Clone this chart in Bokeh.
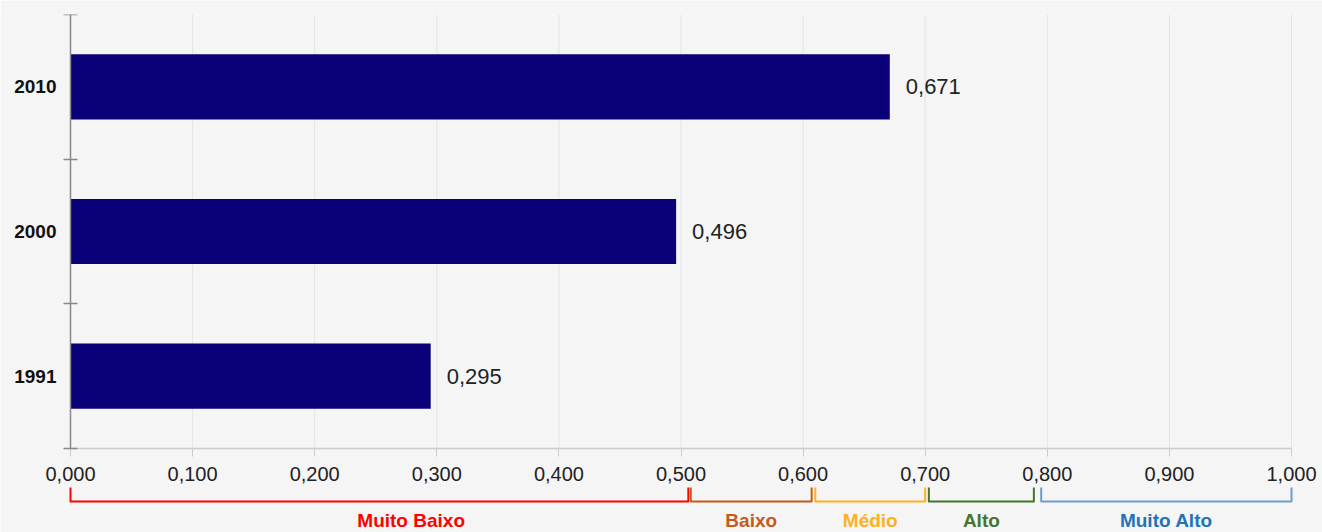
from bokeh.plotting import figure
from bokeh.models import Range1d, FixedTicker
from bokeh.core.properties import value
from bokeh.embed import file_html
from bokeh.resources import INLINE

# ---- data ----
anos = ["1991", "2000", "2010"]
idhm = [0.295, 0.496, 0.671]
idhm_rotulos = ["0,295", "0,496", "0,671"]

x_ticks = [0.0, 0.1, 0.2, 0.3, 0.4, 0.5, 0.6, 0.7, 0.8, 0.9, 1.0]
x_tick_labels = ["0,000", "0,100", "0,200", "0,300", "0,400", "0,500",
                 "0,600", "0,700", "0,800", "0,900", "1,000"]

faixas = ["Muito Baixo", "Baixo", "Médio", "Alto", "Muito Alto"]
faixa_inicio = [0.0, 0.508, 0.610, 0.703, 0.795]
faixa_fim = [0.506, 0.607, 0.700, 0.789, 1.0]

# ---- style / layout ----
BG = "#f5f5f5"
BAR = "#0a0078"
FONT = value("Liberation Sans")
faixa_cor_chave = ["#ff0000", "#c55a1a", "#ffb020", "#44752a", "#6a9fd0"]
faixa_cor_texto = ["#ff0000", "#c55a1a", "#ffb020", "#44752a", "#1f73b7"]

W, H = 1322, 532
LEFT, RIGHT, TOP = 70, 31, 14      # where the value range 0..1 and the bands sit
X_SCALE = W - LEFT - RIGHT         # pixels per unit of IDHM
CAT_H = 434 / len(anos)            # pixels per category band
AXIS_Y = TOP + 434                 # screen y of the value axis


def below(px):
    """data-y of a point px pixels below the value axis"""
    return -px / CAT_H


ypos = [i + 0.5 for i in range(len(anos))]
bounds = [float(i) for i in range(len(anos) + 1)]

p = figure(width=W, height=H,
           x_range=Range1d(-LEFT / X_SCALE, 1 + RIGHT / X_SCALE),
           y_range=Range1d(below(H - AXIS_Y), len(anos)),
           output_backend="svg", toolbar_location=None,
           min_border_left=0, min_border_right=0, min_border_top=TOP, min_border_bottom=0,
           background_fill_color=BG, border_fill_color=BG, outline_line_color=None)

# vertical grid lines (only over the plotting band)
p.segment(x0=x_ticks, y0=[0] * len(x_ticks), x1=x_ticks, y1=[len(anos)] * len(x_ticks),
          line_color="#e4e4e4", line_width=1)

p.hbar(y=ypos, left=0, right=idhm, height=0.45, fill_color=BAR, line_color=None)
p.text(x=idhm, y=ypos, text=idhm_rotulos, x_offset=16, text_align="left",
       text_baseline="middle", text_font=FONT, text_font_size="22px", text_color="#222222")

p.xgrid.visible = False
p.ygrid.visible = False

xa = p.xaxis[0]
xa.fixed_location = 0
xa.bounds = (0, 1)
xa.ticker = FixedTicker(ticks=x_ticks, minor_ticks=[])
xa.major_label_overrides = dict(zip(x_ticks, x_tick_labels))
xa.axis_line_color = "#cccccc"
xa.axis_line_width = 1.5
xa.major_tick_line_color = "#cccccc"
xa.major_tick_out = 8
xa.major_tick_in = 0
xa.minor_tick_line_color = None
xa.major_label_text_font = "Liberation Sans"
xa.major_label_text_font_size = "20px"
xa.major_label_text_color = "#222222"
xa.major_label_standoff = 10

ya = p.yaxis[0]
ya.fixed_location = 0
ya.bounds = (0, len(anos))
ya.ticker = FixedTicker(ticks=ypos, minor_ticks=bounds)
ya.major_label_overrides = dict(zip(ypos, anos))
ya.major_tick_line_color = None
ya.major_tick_in = 0
ya.major_tick_out = 0
ya.minor_tick_in = 7
ya.minor_tick_out = 7
ya.minor_tick_line_color = "#888888"
ya.minor_tick_line_width = 1.5
ya.axis_line_color = "#888888"
ya.axis_line_width = 1.5
ya.major_label_text_font = "Liberation Sans"
ya.major_label_text_font_style = "bold"
ya.major_label_text_font_size = "19px"
ya.major_label_text_color = "#111111"
ya.major_label_standoff = 7

# ---- range brackets below the axis ----
xs = [[s, s, e, e] for s, e in zip(faixa_inicio, faixa_fim)]
ys = [[below(39), below(53), below(53), below(39)] for _ in faixas]
p.multi_line(xs=xs, ys=ys, line_color=faixa_cor_chave, line_width=2, line_join="round")

label_x = [(s + e) / 2 for s, e in zip(faixa_inicio, faixa_fim)]
label_x[0] = 0.279  # the reference places this label right of the bracket centre
p.text(x=label_x, y=[below(61)] * len(faixas), text=faixas, text_align="center",
       text_baseline="top", text_font=FONT, text_font_style="bold",
       text_font_size="19px", text_color=faixa_cor_texto)

open("out.html", "w").write(file_html(p, INLINE))
